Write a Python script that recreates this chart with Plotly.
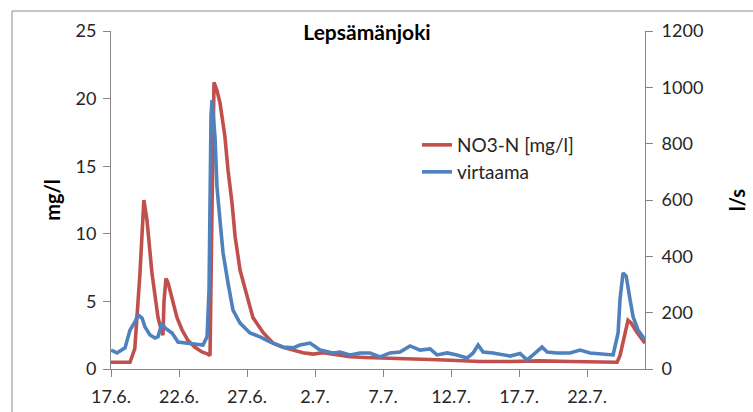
import plotly.graph_objects as go

# --- data ---
no3_time = [
    "2010-06-17 00:00", "2010-06-18 09:30", "2010-06-18 18:00", "2010-06-19 03:00",
    "2010-06-19 10:00", "2010-06-19 15:30", "2010-06-20 00:15", "2010-06-20 11:00",
    "2010-06-20 18:00", "2010-06-20 19:45", "2010-06-20 21:30", "2010-06-21 01:00",
    "2010-06-21 04:30", "2010-06-21 11:45", "2010-06-21 20:30", "2010-06-22 05:15",
    "2010-06-22 16:00", "2010-06-23 04:15", "2010-06-23 16:30", "2010-06-24 03:00",
    "2010-06-24 06:45", "2010-06-24 10:15", "2010-06-24 13:45", "2010-06-24 19:00",
    "2010-06-25 00:15", "2010-06-25 09:00", "2010-06-25 14:30", "2010-06-25 21:30",
    "2010-06-26 03:00", "2010-06-26 11:45", "2010-06-27 00:00", "2010-06-27 10:30",
    "2010-06-28 04:15", "2010-06-28 22:00", "2010-06-29 15:30", "2010-06-30 09:15",
    "2010-07-01 03:00", "2010-07-01 20:30", "2010-07-02 14:00", "2010-07-03 07:45",
    "2010-07-04 13:45", "2010-07-05 16:15", "2010-07-06 18:45", "2010-07-07 21:00",
    "2010-07-08 23:45", "2010-07-10 11:00", "2010-07-11 22:15", "2010-07-14 03:00",
    "2010-07-16 08:15", "2010-07-18 13:00", "2010-07-20 18:00", "2010-07-22 23:00",
    "2010-07-24 05:00", "2010-07-24 10:15", "2010-07-24 15:30", "2010-07-25 00:15",
    "2010-07-25 05:45", "2010-07-25 16:15", "2010-07-26 06:15",
]
no3_mgl = [
    0.5, 0.5, 1.5, 7.0,
    12.5, 11.0, 7.1, 3.8,
    2.7, 2.5, 5.0, 6.7,
    6.4, 5.1, 3.8, 2.9,
    2.1, 1.6, 1.26, 1.1,
    1.0, 12.0, 21.2, 20.6,
    19.7, 17.2, 14.7, 12.3,
    9.8, 7.3, 5.3, 3.8,
    2.7, 1.9, 1.6, 1.4,
    1.2, 1.1, 1.2, 1.1,
    0.9, 0.85, 0.8, 0.8,
    0.75, 0.7, 0.65, 0.55,
    0.55, 0.6, 0.55, 0.5,
    0.5, 1.0, 2.0, 3.6,
    3.4, 2.7, 1.9,
]

flow_time = [
    "2010-06-17 00:00", "2010-06-17 10:30", "2010-06-18 00:45", "2010-06-18 09:30",
    "2010-06-18 18:15", "2010-06-18 23:45", "2010-06-19 06:45", "2010-06-19 12:00",
    "2010-06-19 20:45", "2010-06-20 05:45", "2010-06-20 11:00", "2010-06-20 18:00",
    "2010-06-20 23:15", "2010-06-21 11:45", "2010-06-21 22:15", "2010-06-22 16:00",
    "2010-06-23 07:45", "2010-06-23 18:15", "2010-06-24 01:30", "2010-06-24 05:00",
    "2010-06-24 08:30", "2010-06-24 10:15", "2010-06-24 15:30", "2010-06-24 19:00",
    "2010-06-25 00:15", "2010-06-25 05:45", "2010-06-25 14:30", "2010-06-25 23:15",
    "2010-06-26 11:45", "2010-06-27 05:15", "2010-06-27 23:00", "2010-06-28 16:30",
    "2010-06-29 15:30", "2010-06-30 09:15", "2010-06-30 21:30", "2010-07-01 15:15",
    "2010-07-02 00:00", "2010-07-02 09:00", "2010-07-03 07:45", "2010-07-03 20:00",
    "2010-07-04 13:45", "2010-07-05 07:15", "2010-07-06 01:00", "2010-07-06 18:45",
    "2010-07-07 12:15", "2010-07-08 06:00", "2010-07-08 23:45", "2010-07-09 17:15",
    "2010-07-10 11:00", "2010-07-10 23:15", "2010-07-11 17:00", "2010-07-12 10:30",
    "2010-07-13 04:15", "2010-07-13 15:00", "2010-07-13 23:45", "2010-07-14 08:30",
    "2010-07-15 02:00", "2010-07-16 08:15", "2010-07-17 01:45", "2010-07-17 14:15",
    "2010-07-18 00:45", "2010-07-18 16:30", "2010-07-19 01:30", "2010-07-19 19:00",
    "2010-07-20 18:00", "2010-07-21 11:45", "2010-07-22 05:15", "2010-07-23 04:15",
    "2010-07-23 22:00", "2010-07-24 06:45", "2010-07-24 10:15", "2010-07-24 15:30",
    "2010-07-24 21:00", "2010-07-25 04:00", "2010-07-25 09:15", "2010-07-25 18:00",
    "2010-07-26 06:15",
]
flow_ls = [
    67, 57, 75, 138,
    167, 192, 181, 149,
    121, 110, 115, 163,
    146, 128, 96, 92,
    89, 85, 114, 280,
    900, 955, 824, 646,
    529, 412, 305, 209,
    163, 128, 114, 96,
    78, 75, 85, 92,
    80, 67, 57, 60,
    50, 57, 57, 43,
    57, 60, 82, 67,
    71, 50, 57, 50,
    39, 57, 85, 60,
    57, 46, 55, 32,
    50, 78, 60, 57,
    57, 67, 57, 54,
    50, 128, 250, 341,
    330, 245, 185, 138,
    103,
]

tick_dates = ["2010-06-17", "2010-06-22", "2010-06-27", "2010-07-02",
              "2010-07-07", "2010-07-12", "2010-07-17", "2010-07-22"]
tick_labels = ["17.6.", "22.6.", "27.6.", "2.7.", "7.7.", "12.7.", "17.7.", "22.7."]
x_range = ["2010-06-17 00:00", "2010-07-26 06:15"]

RED = "#C0504D"
BLUE = "#4F81BD"
AXIS = "#868686"
FONT = "Lato"
TXT = "#262626"

fig = go.Figure()
fig.add_trace(go.Scatter(x=no3_time, y=no3_mgl, name="NO3-N [mg/l]", mode="lines",
                         line=dict(color=RED, width=3.6), yaxis="y", legend="legend",
                         showlegend=True))
fig.add_trace(go.Scatter(x=flow_time, y=flow_ls, name="virtaama", mode="lines",
                         line=dict(color=BLUE, width=3.6), yaxis="y2", legend="legend2",
                         showlegend=True))

common_axis = dict(showgrid=False, zeroline=False, showline=True, linecolor=AXIS,
                   linewidth=1, ticks="outside", tickcolor=AXIS, ticklen=7,
                   automargin=False,
                   tickfont=dict(family=FONT, size=18, color=TXT))

fig.update_layout(
    width=753, height=412,
    showlegend=True,
    margin=dict(l=111, r=108, t=31, b=43),
    paper_bgcolor="white", plot_bgcolor="white",
    title=dict(text="<b>Lepsämänjoki</b>", x=(367 / 753), xanchor="center",
               y=1 - 33 / 412, yanchor="middle",
               font=dict(family=FONT, size=21, color="#000000")),
    xaxis=dict(type="date", range=x_range, tickvals=tick_dates, ticktext=tick_labels,
               ticklabelstandoff=4, **common_axis),
    yaxis=dict(range=[0, 25], dtick=5, ticklabelstandoff=3,
               title=dict(text="<b>mg/l</b>", standoff=9,
                          font=dict(family=FONT, size=20, color="#000000")), **common_axis),
    yaxis2=dict(range=[0, 1200], dtick=200, overlaying="y", side="right",
                ticklabelstandoff=5,
                title=dict(text="<b>l/s</b>", standoff=28,
                           font=dict(family=FONT, size=20, color="#000000")),
                **common_axis),
    legend=dict(x=(417 - 111) / 534, xanchor="left", y=(369 - 145) / 338, yanchor="middle",
                bgcolor="rgba(0,0,0,0)", font=dict(family=FONT, size=19, color=TXT)),
    legend2=dict(x=(417 - 111) / 534, xanchor="left", y=(369 - 172) / 338, yanchor="middle",
                 bgcolor="rgba(0,0,0,0)", font=dict(family=FONT, size=19, color=TXT)),
    shapes=[dict(type="rect", xref="paper", yref="paper",
                 x0=(12 - 111) / 534, x1=1.5, y0=-0.5, y1=(369 - 11) / 338,
                 line=dict(color="#8C8C8C", width=1), fillcolor="rgba(0,0,0,0)",
                 layer="below")],
)

fig.write_html("out.html", config={"displayModeBar": False},
               post_script="document.body.style.margin='0';")
